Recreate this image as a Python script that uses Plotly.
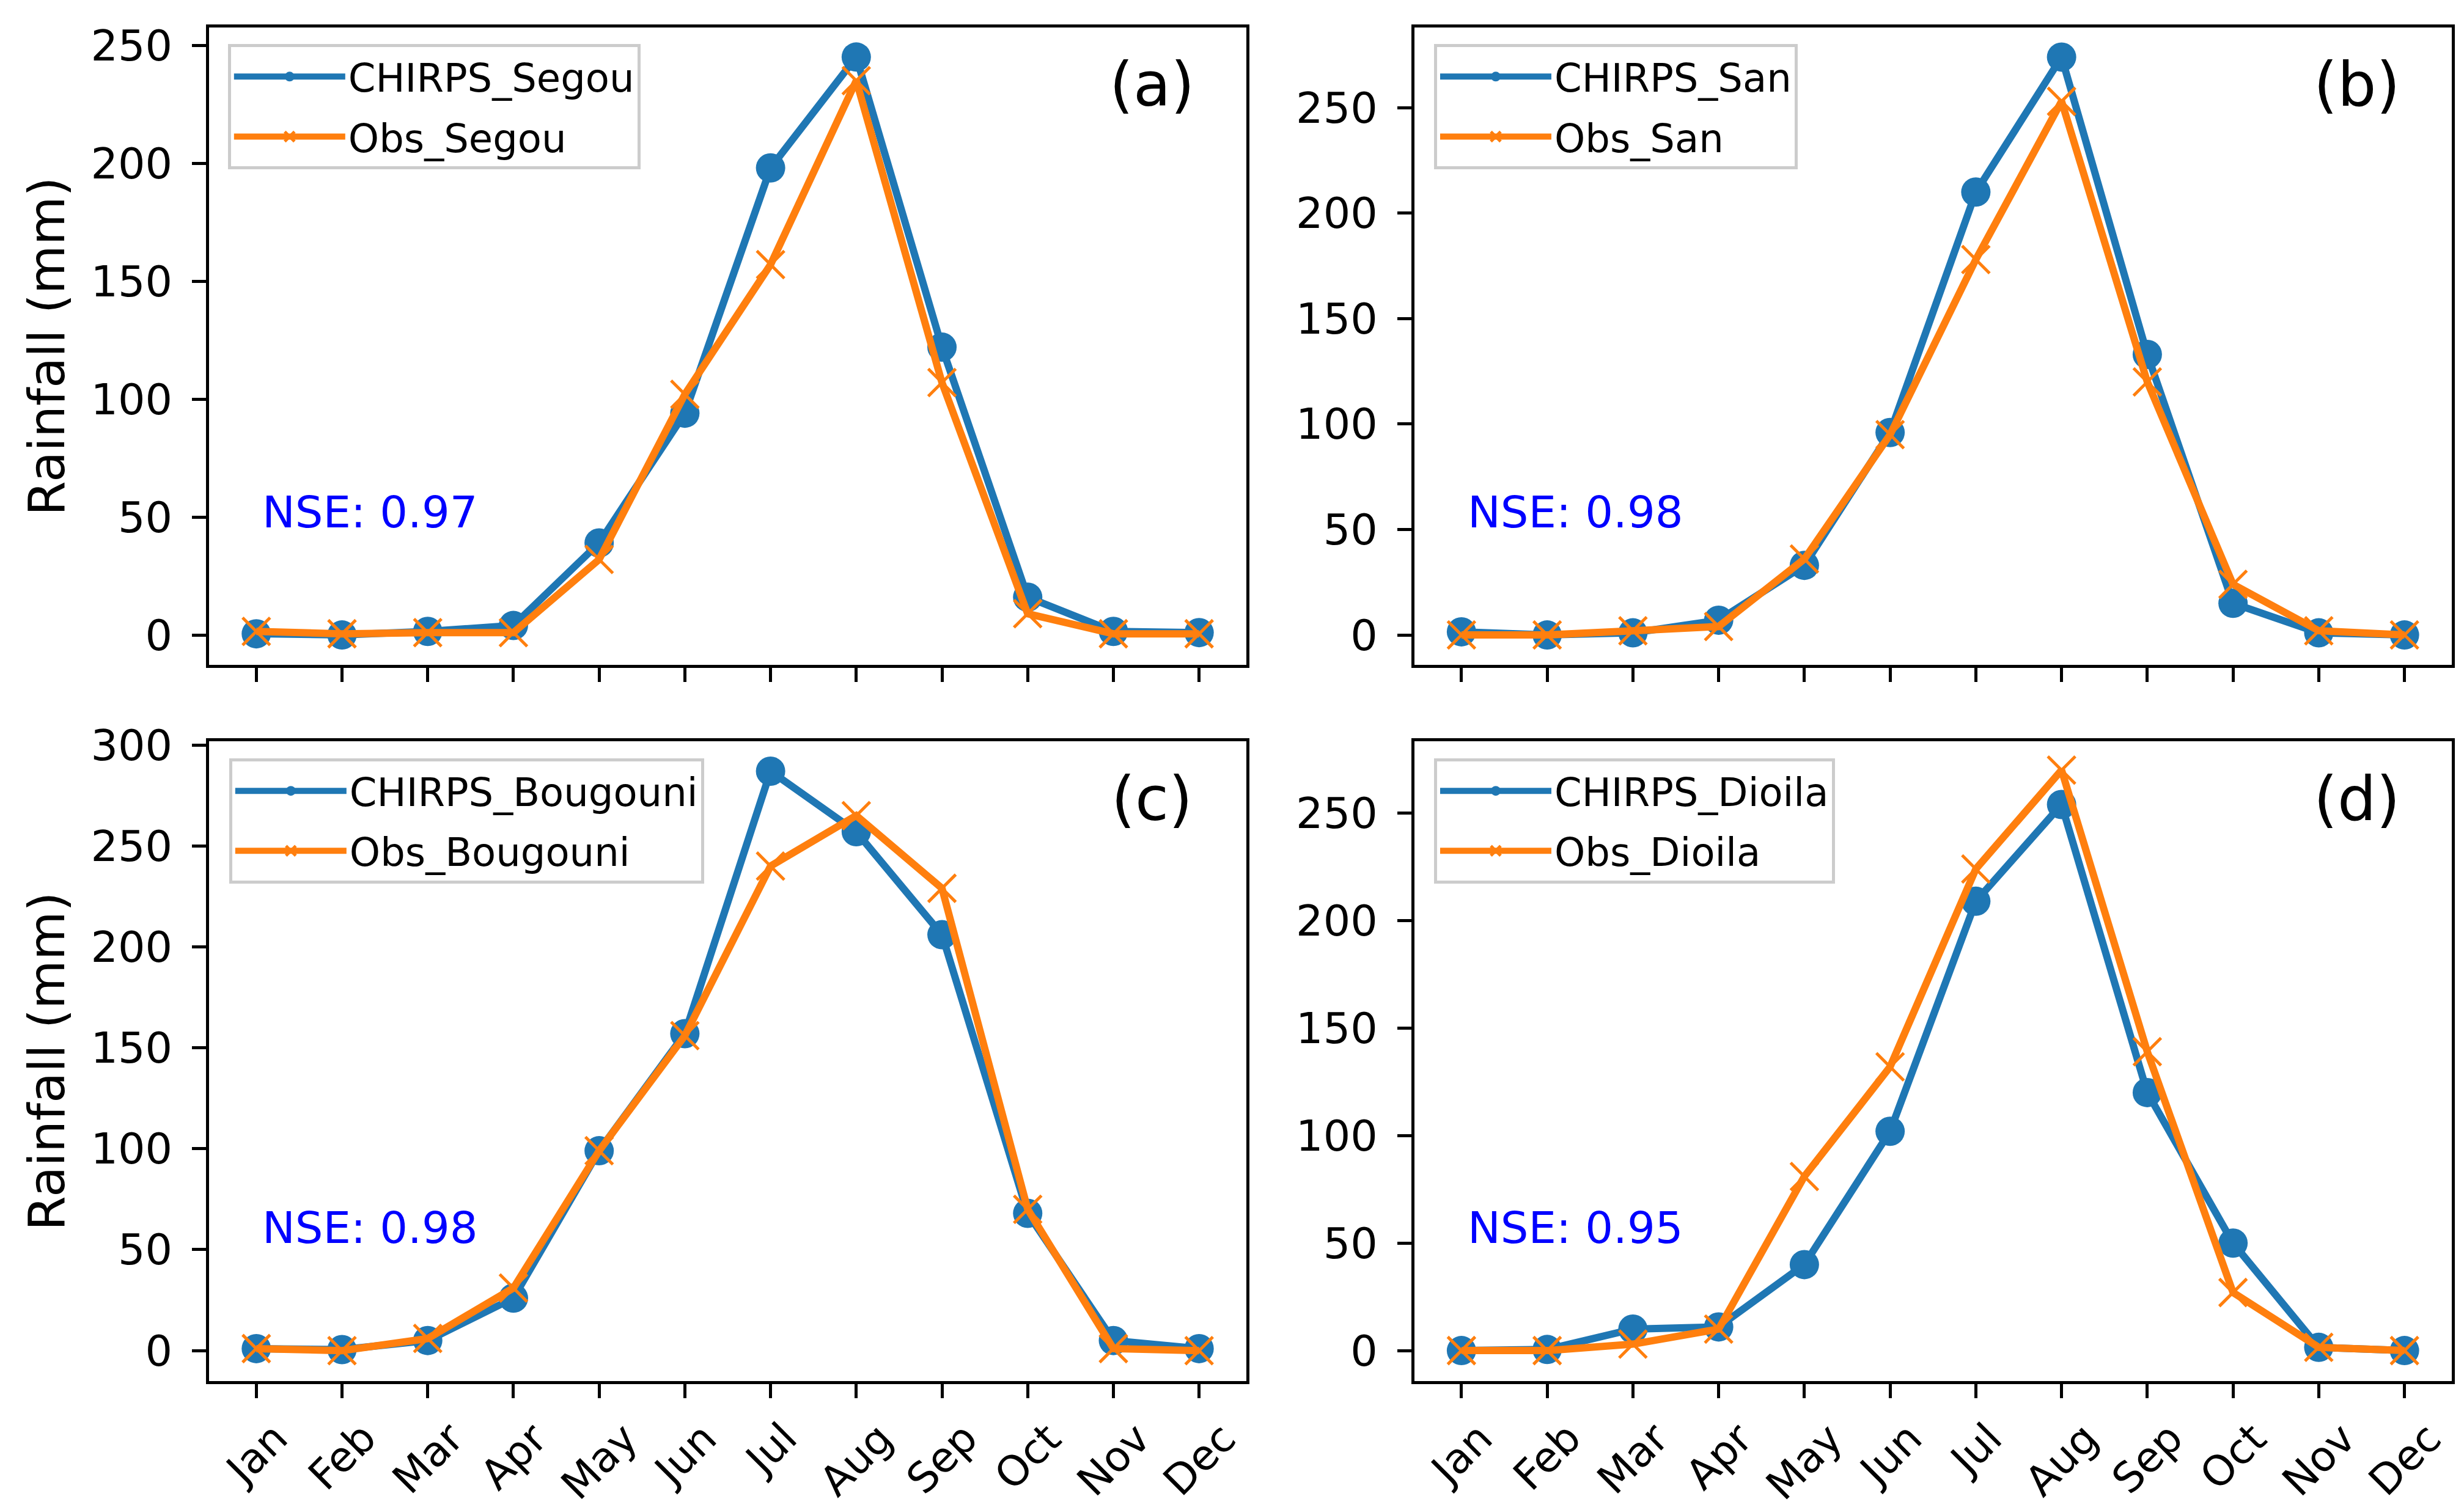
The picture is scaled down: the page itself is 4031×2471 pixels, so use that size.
import plotly.graph_objects as go

months = ["Jan", "Feb", "Mar", "Apr", "May", "Jun", "Jul", "Aug", "Sep", "Oct", "Nov", "Dec"]

stations = ["Segou", "San", "Bougouni", "Dioila"]
panel_labels = ["(a)", "(b)", "(c)", "(d)"]
nse_values = ["0.97", "0.98", "0.98", "0.95"]

chirps_segou = [0.5, 0, 1.5, 4, 39, 94, 198, 245, 122, 16, 1.5, 1]
obs_segou = [1.5, 0.5, 1, 1, 32, 102, 157, 235, 107, 9, 0.5, 0.5]

chirps_san = [1.5, 0, 1, 7, 33, 96, 210, 274, 133, 15, 1, 0]
obs_san = [0, 0, 2, 4, 36, 95, 178, 253, 120, 24, 2, 0]

chirps_bougouni = [1, 0.5, 5, 26, 99, 157, 287, 257, 206, 68, 5, 1]
obs_bougouni = [1, 0, 6, 31, 99, 156, 240, 265, 229, 70, 1, 0]

chirps_dioila = [0, 0.5, 10, 11, 40, 102, 209, 254, 120, 50, 1.5, 0]
obs_dioila = [0, 0, 3, 10, 81, 132, 224, 270, 139, 27, 1.5, 0]

chirps_all = [chirps_segou, chirps_san, chirps_bougouni, chirps_dioila]
obs_all = [obs_segou, obs_san, obs_bougouni, obs_dioila]

y_ranges = [[-12.7, 257.5], [-14.2, 288], [-15.1, 301.8], [-14.2, 283.4]]
y_dtick = [50, 50, 50, 50]

BLUE = "#1f77b4"
ORANGE = "#ff7f0e"
FONT = "DejaVu Sans"

x_domains = [[0.0829, 0.5038], [0.572, 0.993], [0.0829, 0.5038], [0.572, 0.993]]
y_domains = [[0.5629, 0.985], [0.5629, 0.985], [0.0886, 0.5123], [0.0886, 0.5123]]
legend_pos = [(0.0905, 0.974), (0.58, 0.974), (0.091, 0.501), (0.58, 0.501)]

fig = go.Figure()
layout = dict(
    template="none",
    width=4031, height=2471, autosize=False,
    margin=dict(l=0, r=0, t=0, b=0, autoexpand=False),
    paper_bgcolor="white", plot_bgcolor="white",
    font=dict(family=FONT, size=70, color="black"),
    showlegend=True,
)
annotations = []

for i in range(4):
    n = i + 1
    xa = "x" if n == 1 else f"x{n}"
    ya = "y" if n == 1 else f"y{n}"
    lg = "legend" if n == 1 else f"legend{n}"
    st = stations[i]
    fig.add_trace(go.Scatter(
        x=months, y=chirps_all[i], mode="lines+markers", name=f"CHIRPS_{st}",
        xaxis=xa, yaxis=ya, legend=lg, legendgroup=f"c{n}",
        line=dict(color=BLUE, width=12),
        marker=dict(symbol="circle", size=48, color=BLUE),
    ))
    fig.add_trace(go.Scatter(
        x=months, y=obs_all[i], mode="lines+markers", name=f"Obs_{st}",
        xaxis=xa, yaxis=ya, legend=lg, legendgroup=f"o{n}",
        line=dict(color=ORANGE, width=12),
        marker=dict(symbol="x-thin", size=45, color=ORANGE,
                    line=dict(color=ORANGE, width=5)),
    ))
    xkey = "xaxis" if n == 1 else f"xaxis{n}"
    ykey = "yaxis" if n == 1 else f"yaxis{n}"
    layout[xkey] = dict(
        domain=x_domains[i], anchor=ya, type="category", automargin=False,
        range=[-0.55, 11.55], showgrid=False, zeroline=False,
        showline=True, linecolor="black", linewidth=5, mirror=True,
        ticks="outside", ticklen=23, tickwidth=5, tickcolor="black",
        showticklabels=False,
    )
    layout[ykey] = dict(
        domain=y_domains[i], anchor=xa, automargin=False,
        range=y_ranges[i], dtick=y_dtick[i], tick0=0, showgrid=False, zeroline=False,
        showline=True, linecolor="black", linewidth=5, mirror=True,
        ticks="outside", ticklen=23, tickwidth=5, tickcolor="black",
        ticklabelstandoff=18,
        tickfont=dict(family=FONT, size=70, color="black"),
    )
    lx, ly = legend_pos[i]
    layout[lg] = dict(
        x=lx, y=ly, xanchor="left", yanchor="top",
        bgcolor="rgba(255,255,255,0.8)", bordercolor="#cccccc", borderwidth=5,
        font=dict(family=FONT, size=64, color="black"),
        traceorder="grouped", tracegroupgap=12, itemwidth=182,
    )
    annotations.append(dict(
        text=panel_labels[i], xref=f"{xa} domain", yref=f"{ya} domain",
        x=0.909, y=0.91, xanchor="center", yanchor="middle",
        showarrow=False, font=dict(family=FONT, size=100, color="black"),
    ))
    annotations.append(dict(
        text=f"NSE: {nse_values[i]}", xref=f"{xa} domain", yref=f"{ya} domain",
        x=0.05, y=0.24, xanchor="left", yanchor="middle",
        showarrow=False, font=dict(family=FONT, size=72, color="#0000ff"),
    ))
    if i >= 2:
        for m in months:
            annotations.append(dict(
                text=m, xref=xa, yref=f"{ya} domain", x=m, y=0,
                xanchor="center", yanchor="top", yshift=-52, textangle=-45,
                borderpad=0, showarrow=False,
                font=dict(family=FONT, size=68, color="black"),
            ))

for yc in [(0.5629 + 0.985) / 2, (0.0886 + 0.5123) / 2]:
    annotations.append(dict(
        text="Rainfall (mm)", xref="paper", yref="paper", x=0.017, y=yc,
        xanchor="center", yanchor="middle", textangle=-90, showarrow=False,
        font=dict(family=FONT, size=82, color="black"),
    ))

layout["annotations"] = annotations
fig.update_layout(**layout)
fig.write_html("out.html")
